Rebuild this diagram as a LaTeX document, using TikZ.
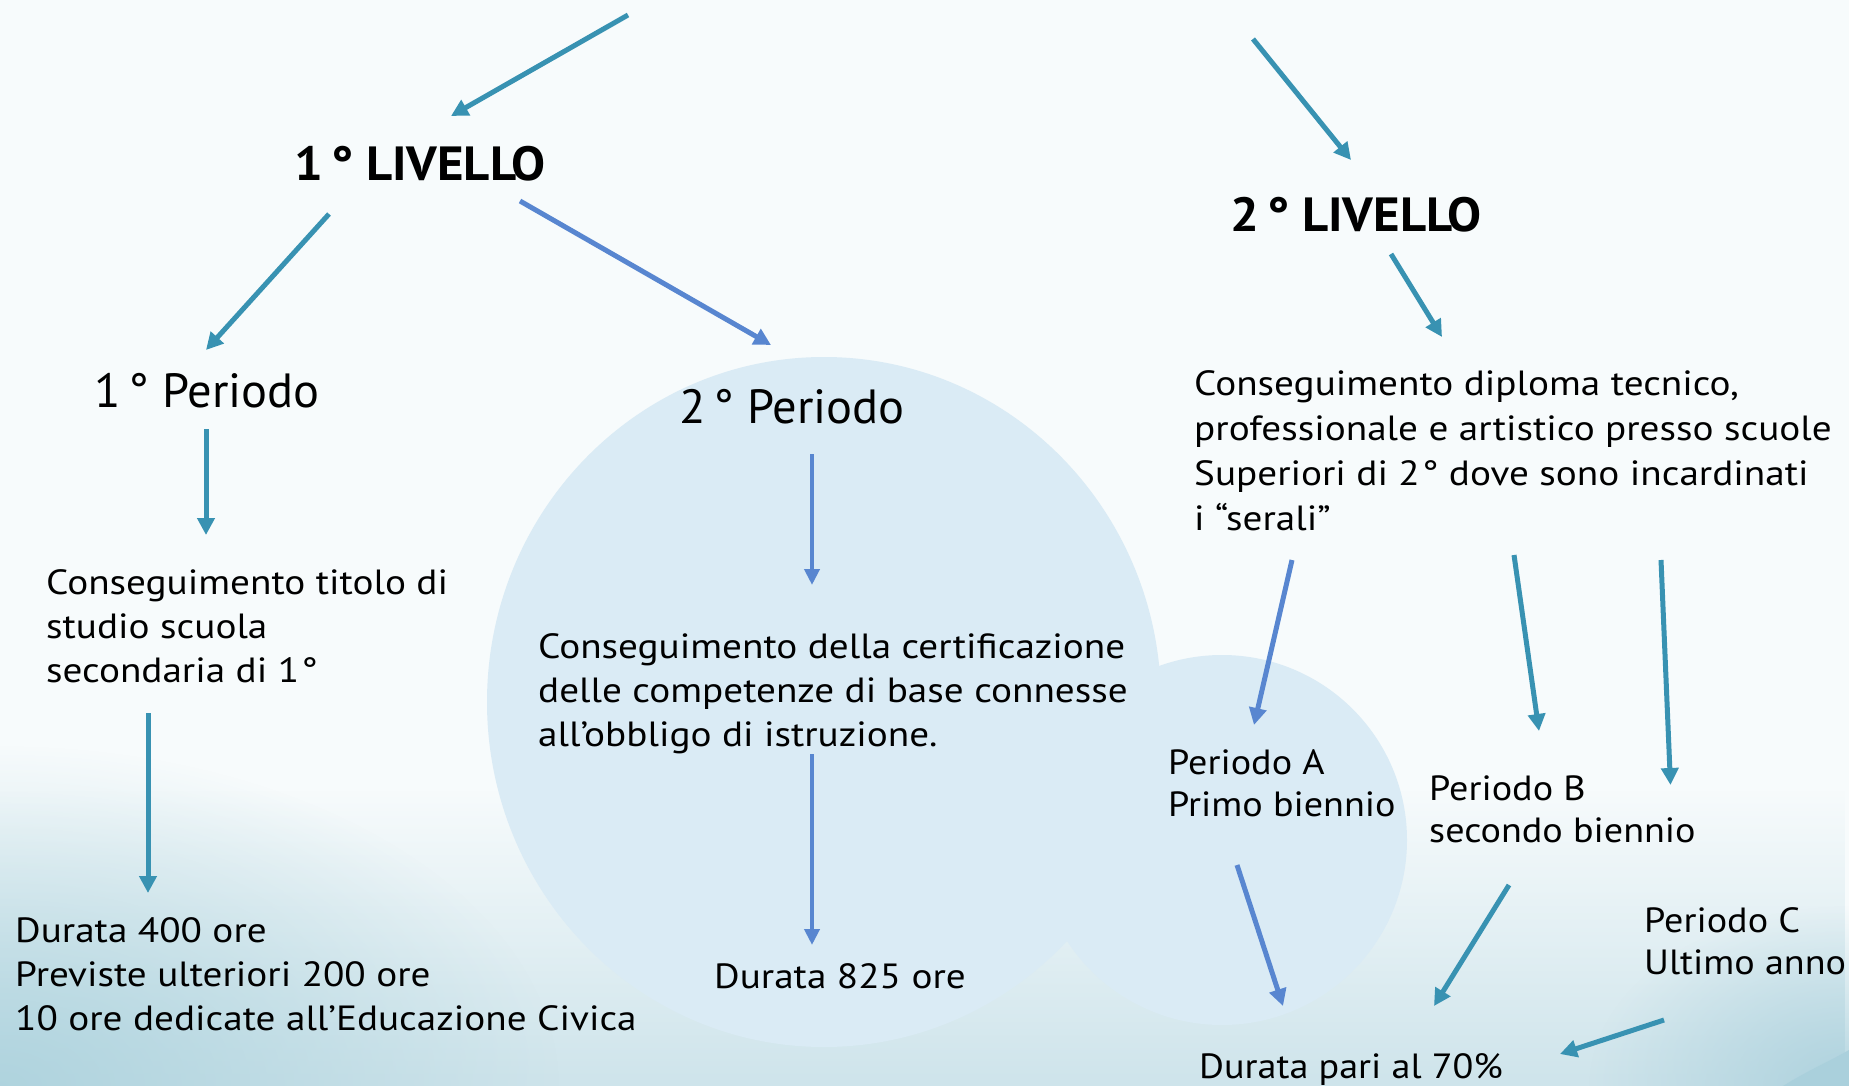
\documentclass[tikz,border=0pt]{standalone}
\usepackage{fontspec}
\setmainfont{PT Sans}
\newfontfamily\bodyfont{PT Sans}[FakeStretch=1.12]
\newfontfamily\smallfont{PT Sans}[FakeStretch=1.09]
\newfontfamily\headfont{PT Sans}[FakeStretch=1.01]
\newfontfamily\headbfont{PT Sans Bold}[FakeStretch=1.06]
\usetikzlibrary{arrows.meta,fadings}
\definecolor{arrteal}{RGB}{56,146,178}
\definecolor{arrblue}{RGB}{88,134,208}
\definecolor{circfill}{RGB}{218,235,245}
\definecolor{bgtop}{RGB}{247,251,252}
\definecolor{bgbot}{RGB}{206,228,235}
\definecolor{bgblob}{RGB}{172,210,221}
\definecolor{bgcorner}{RGB}{170,208,220}
\tikzfading[name=fadeup, top color=transparent!100, bottom color=transparent!0]
\tikzfading[name=fadeblob, inner color=transparent!10, outer color=transparent!100]
\newcommand\txtblock[1]{\begin{tabular}[t]{@{}l@{}}#1\end{tabular}}
\begin{document}
\begin{tikzpicture}[x=1pt,y=-1pt,
  tarr/.style={draw=arrteal, line width=5pt, -{Triangle[length=17pt,width=17pt]}},
  barr/.style={draw=arrblue, line width=5pt, -{Triangle[length=17pt,width=17pt]}},
  bthin/.style={draw=arrblue, line width=4pt, -{Triangle[length=16pt,width=15pt]}},
  body/.style={inner sep=0pt, anchor=base west, font=\bodyfont\fontsize{35}{44}\selectfont},
  small/.style={inner sep=0pt, anchor=base west, font=\smallfont\fontsize{35}{42}\selectfont},
  head/.style={inner sep=0pt, anchor=base west, font=\headfont\fontsize{48}{56}\selectfont},
  headb/.style={inner sep=0pt, anchor=base west, font=\headbfont\fontsize{48}{56}\selectfont}]
\useasboundingbox (0,0) rectangle (1849,1086);
% background
\fill[bgtop] (0,0) rectangle (1849,1086);
\fill[bgbot, path fading=fadeup] (0,790) rectangle (1849,1086);
\fill[bgblob, path fading=fadeblob] (0,1086) ellipse [x radius=560, y radius=340];
\fill[bgcorner, path fading=fadeblob] (1849,1086) ellipse [x radius=260, y radius=180];
\fill[bgcorner] (1783,1086) .. controls (1805,1072) and (1828,1062) .. (1849,1050) -- (1849,1086) -- cycle;
% circles
\fill[circfill] (824,702) ellipse [x radius=337, y radius=345];
\fill[circfill] (1222,840) circle [radius=185];
% texts
\node[headb] (liv1) at (294,181) {1\,°\ LIVELLO};
\node[headb] (liv2) at (1230,231) {2\,°\ LIVELLO};
\node[head] (per1) at (94,407) {1\,°\ Periodo};
\node[head] (per2) at (679,423) {2\,°\ Periodo};
\node[body] (cons1) at (46,594) {\txtblock{Conseguimento titolo di\\studio scuola\\secondaria di 1\kern2pt°}};
\node[body] (dur1) at (15,942) {\txtblock{Durata 400 ore\\Previste ulteriori 200 ore\\10 ore dedicate all’Educazione Civica}};
\node[body] (cons2) at (538,658) {\txtblock{Conseguimento della certificazione\\delle competenze di base connesse\\all’obbligo di istruzione.}};
\node[body] (dur2) at (714,988) {Durata 825 ore};
\node[body, font=\bodyfont\fontsize{35}{45}\selectfont] (cons3) at (1194,395) {\txtblock{Conseguimento diploma tecnico,\\professionale e artistico presso scuole\\Superiori di 2\kern2pt°\ dove sono incardinati\\i “serali”}};
\node[small] (perA) at (1168,774) {\txtblock{Periodo A\\Primo biennio}};
\node[small] (perB) at (1429,800) {\txtblock{Periodo B\\secondo biennio}};
\node[small] (perC) at (1644,932) {\txtblock{Periodo C\\Ultimo anno}};
\node[small] (dur3) at (1199,1078) {Durata pari al 70\%};
% connector end points
\coordinate (top1) at (628,15);   \coordinate (liv1in) at (451,116);
\coordinate (liv1a) at (329,214); \coordinate (per1in) at (206,350);
\coordinate (liv1b) at (520,201); \coordinate (per2in) at (771,345);
\coordinate (top2) at (1253,39);  \coordinate (liv2in) at (1351,160);
\coordinate (liv2a) at (1391,254); \coordinate (cons3in) at (1442,337);
\coordinate (per1a) at (206,429); \coordinate (cons1in) at (206,535);
\coordinate (cons1a) at (148,713); \coordinate (dur1in) at (148,893);
\coordinate (per2a) at (812,454); \coordinate (cons2in) at (812,585);
\coordinate (cons2a) at (812,754); \coordinate (dur2in) at (812,945);
\coordinate (cons3a) at (1292,560); \coordinate (perAin) at (1254,725);
\coordinate (cons3b) at (1514,555); \coordinate (perBin) at (1539,731);
\coordinate (cons3c) at (1661,560); \coordinate (perCin) at (1670.5,785);
\coordinate (perAa) at (1237,865); \coordinate (dur3inA) at (1283,1006);
\coordinate (perBa) at (1509,885); \coordinate (dur3inB) at (1434,1006);
\coordinate (perCa) at (1664,1020); \coordinate (dur3inC) at (1560,1054);
% connectors
\draw[tarr] (top1) -- (liv1in);
\draw[tarr] (liv1a) -- (per1in);
\draw[barr] (liv1b) -- (per2in);
\draw[tarr] (top2) -- (liv2in);
\draw[tarr] (liv2a) -- (cons3in);
\draw[tarr] (per1a) -- (cons1in);
\draw[tarr] (cons1a) -- (dur1in);
\draw[bthin] (per2a) -- (cons2in);
\draw[bthin] (cons2a) -- (dur2in);
\draw[barr] (cons3a) -- (perAin);
\draw[tarr] (cons3b) -- (perBin);
\draw[tarr] (cons3c) -- (perCin);
\draw[barr] (perAa) -- (dur3inA);
\draw[tarr] (perBa) -- (dur3inB);
\draw[tarr] (perCa) -- (dur3inC);
\end{tikzpicture}
\end{document}
